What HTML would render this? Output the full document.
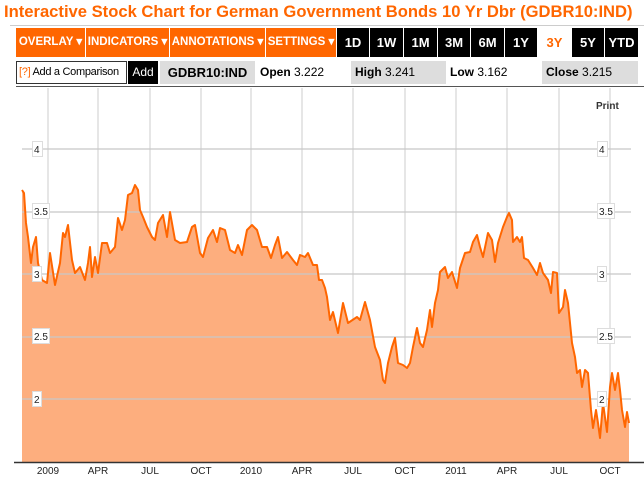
<!DOCTYPE html>
<html><head><meta charset="utf-8"><style>
*{margin:0;padding:0;box-sizing:border-box}
body{width:644px;height:481px;background:#fff;font-family:"Liberation Sans",Arial,sans-serif;position:relative;overflow:hidden}
.a{position:absolute}
.t{left:4px;top:2px;font-size:16.6px;font-weight:bold;color:#f60;white-space:nowrap}
.ob{top:28px;height:29px;background:#f60;color:#fff;font-weight:bold;font-size:11.5px;line-height:29px;text-align:center;white-space:nowrap}
.bb{top:28px;height:29px;background:#000;color:#fff;font-weight:bold;font-size:13px;line-height:29px;text-align:center}
.r2{top:61px;height:23px;font-size:12px;line-height:23px;white-space:nowrap}
</style></head><body>
<div class="a t">Interactive Stock Chart for German Government Bonds 10 Yr Dbr (GDBR10:IND)</div>
<div class="a" style="left:10px;top:25px;width:634px;height:1px;background:#ccc"></div>
<div class="a ob" style="left:16px;width:69px">OVERLAY ▾</div>
<div class="a ob" style="left:86px;width:83px">INDICATORS ▾</div>
<div class="a ob" style="left:170px;width:95px">ANNOTATIONS ▾</div>
<div class="a ob" style="left:266px;width:70px">SETTINGS ▾</div>
<div class="a bb" style="left:337px;width:32px">1D</div>
<div class="a bb" style="left:370px;width:33px">1W</div>
<div class="a bb" style="left:404px;width:33px">1M</div>
<div class="a bb" style="left:438px;width:32px">3M</div>
<div class="a bb" style="left:471px;width:33px">6M</div>
<div class="a bb" style="left:505px;width:32px">1Y</div>
<div class="a bb" style="left:538px;width:33px;background:#fff;color:#f60">3Y</div>
<div class="a bb" style="left:572px;width:32px">5Y</div>
<div class="a bb" style="left:605px;width:33px">YTD</div>
<div class="a r2" style="left:16px;width:111px;border:1px solid #333;padding-left:2px;line-height:21px;font-size:11px;letter-spacing:-0.3px;overflow:hidden"><span style="color:#f60">[?]</span> Add a Comparison</div>
<div class="a r2" style="left:128px;width:30px;background:#000;color:#fff;text-align:center">Add</div>
<div class="a r2" style="left:160px;width:95px;background:#ddd;font-weight:bold;text-align:center;font-size:13px">GDBR10:IND</div>
<div class="a r2" style="left:260px"><b>Open</b> 3.222</div>
<div class="a r2" style="left:351px;width:95px;background:#ddd;padding-left:4px"><b>High</b> 3.241</div>
<div class="a r2" style="left:450px"><b>Low</b> 3.162</div>
<div class="a r2" style="left:542px;width:96px;background:#ddd;padding-left:4px"><b>Close</b> 3.215</div>
<div class="a" style="left:16px;top:86px;width:628px;height:1px;background:#555"></div>
<svg class="a" style="left:0;top:0" width="644" height="481">
<g stroke="#e6e6e6" stroke-width="2">
<line x1="48" y1="88" x2="48" y2="462"/><line x1="98" y1="88" x2="98" y2="462"/><line x1="150" y1="88" x2="150" y2="462"/><line x1="201" y1="88" x2="201" y2="462"/><line x1="251" y1="88" x2="251" y2="462"/><line x1="302" y1="88" x2="302" y2="462"/><line x1="353" y1="88" x2="353" y2="462"/><line x1="405" y1="88" x2="405" y2="462"/><line x1="456" y1="88" x2="456" y2="462"/><line x1="507" y1="88" x2="507" y2="462"/><line x1="559" y1="88" x2="559" y2="462"/><line x1="610" y1="88" x2="610" y2="462"/>
</g>
<polygon fill="#fdae7e" points="22,462 22,190 24,193 26,223 28,237 31,263 33,247 36,237 38,263 42,280 47,283 50,253 55,285 60,263 63,233 65,237 68,225 72,260 75,273 80,267 85,280 88,263 90,247 92,277 95,257 98,273 102,243 107,243 110,253 115,247 118,218 122,230 125,220 128,195 132,193 135,185 138,190 140,210 143,217 147,227 152,237 155,240 158,223 163,215 167,237 170,212 175,240 180,243 187,242 192,227 195,225 200,253 203,257 208,238 213,230 217,242 220,228 225,230 230,250 235,253 238,245 242,255 247,230 252,225 257,230 262,247 267,247 271,258 275,245 278,237 282,258 287,252 293,260 297,265 300,255 305,257 308,253 313,265 317,265 319,280 322,280 325,288 327,297 330,320 333,312 338,333 343,303 348,323 357,317 360,320 365,302 370,320 375,347 380,360 383,380 385,383 388,363 392,347 395,338 398,363 403,365 407,368 410,363 413,347 417,328 420,343 423,347 427,330 430,310 432,327 435,303 438,290 440,272 445,267 448,278 452,272 457,288 460,268 465,253 470,252 473,242 477,235 480,247 483,257 488,233 492,240 495,262 498,243 503,227 507,217 509,213 512,220 513,242 517,237 520,242 522,237 524,258 528,260 533,268 537,275 540,263 543,273 548,280 551,293 553,272 557,273 559,313 563,307 565,290 568,303 572,343 575,357 577,373 580,370 582,387 585,370 588,373 591,410 593,428 596,410 598,423 600,438 603,403 607,432 610,387 612,373 615,390 618,373 620,390 622,410 625,427 627,412 629,423 629,462"/>
<g stroke="#c8c8c8" stroke-width="1.2">
<line x1="22" y1="149" x2="631" y2="149"/><line x1="22" y1="212" x2="631" y2="212"/><line x1="22" y1="274" x2="631" y2="274"/><line x1="22" y1="337" x2="631" y2="337"/><line x1="22" y1="399" x2="631" y2="399"/>
</g>
<polyline fill="none" stroke="#ff6600" stroke-width="2" stroke-linejoin="round" points="22,190 24,193 26,223 28,237 31,263 33,247 36,237 38,263 42,280 47,283 50,253 55,285 60,263 63,233 65,237 68,225 72,260 75,273 80,267 85,280 88,263 90,247 92,277 95,257 98,273 102,243 107,243 110,253 115,247 118,218 122,230 125,220 128,195 132,193 135,185 138,190 140,210 143,217 147,227 152,237 155,240 158,223 163,215 167,237 170,212 175,240 180,243 187,242 192,227 195,225 200,253 203,257 208,238 213,230 217,242 220,228 225,230 230,250 235,253 238,245 242,255 247,230 252,225 257,230 262,247 267,247 271,258 275,245 278,237 282,258 287,252 293,260 297,265 300,255 305,257 308,253 313,265 317,265 319,280 322,280 325,288 327,297 330,320 333,312 338,333 343,303 348,323 357,317 360,320 365,302 370,320 375,347 380,360 383,380 385,383 388,363 392,347 395,338 398,363 403,365 407,368 410,363 413,347 417,328 420,343 423,347 427,330 430,310 432,327 435,303 438,290 440,272 445,267 448,278 452,272 457,288 460,268 465,253 470,252 473,242 477,235 480,247 483,257 488,233 492,240 495,262 498,243 503,227 507,217 509,213 512,220 513,242 517,237 520,242 522,237 524,258 528,260 533,268 537,275 540,263 543,273 548,280 551,293 553,272 557,273 559,313 563,307 565,290 568,303 572,343 575,357 577,373 580,370 582,387 585,370 588,373 591,410 593,428 596,410 598,423 600,438 603,403 607,432 610,387 612,373 615,390 618,373 620,390 622,410 625,427 627,412 629,423"/>
<g font-family="Liberation Sans,sans-serif" font-size="10" fill="#222">
<g fill="#fff" stroke="#ddd"><rect x="32.5" y="141.5" width="10" height="15"/><rect x="32.5" y="203.5" width="17" height="15"/><rect x="32.5" y="266.5" width="9" height="15"/><rect x="32.5" y="328.5" width="17" height="15"/><rect x="32.5" y="391.5" width="9" height="15"/>
<rect x="597.5" y="141.5" width="10" height="15"/><rect x="597.5" y="203.5" width="17" height="15"/><rect x="597.5" y="266.5" width="9" height="15"/><rect x="597.5" y="328.5" width="17" height="15"/><rect x="597.5" y="391.5" width="9" height="15"/></g>
<text x="34" y="153">4</text><text x="34" y="215">3.5</text><text x="34" y="278">3</text><text x="34" y="340">2.5</text><text x="34" y="403">2</text>
<text x="599" y="153">4</text><text x="599" y="215">3.5</text><text x="599" y="278">3</text><text x="599" y="340">2.5</text><text x="599" y="403">2</text>
<text x="596" y="109" font-weight="bold" fill="#333">Print</text>
</g>
<line x1="14" y1="462.5" x2="644" y2="462.5" stroke="#333" stroke-width="1.5"/>
<g font-family="Liberation Sans,sans-serif" font-size="10" fill="#222" text-anchor="middle">
<text x="48" y="474">2009</text><text x="98" y="474">APR</text><text x="150" y="474">JUL</text><text x="201" y="474">OCT</text><text x="251" y="474">2010</text><text x="302" y="474">APR</text><text x="353" y="474">JUL</text><text x="405" y="474">OCT</text><text x="456" y="474">2011</text><text x="507" y="474">APR</text><text x="559" y="474">JUL</text><text x="610" y="474">OCT</text>
</g>
</svg>
</body></html>
